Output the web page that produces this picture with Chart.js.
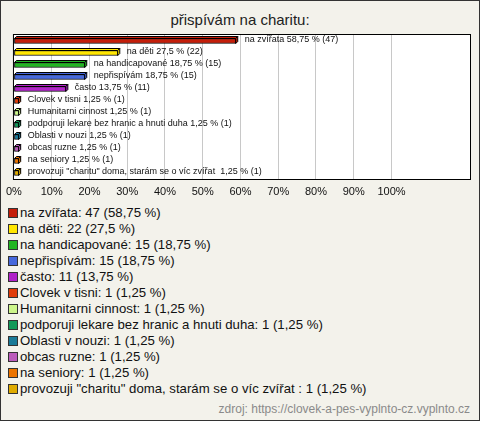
<!DOCTYPE html>
<html>
<head>
<meta charset="utf-8">
<script src="https://cdn.jsdelivr.net/npm/chart.js@4/dist/chart.umd.min.js"></script>
<style>
    html, body { margin: 0; padding: 0; }
    body { width: 480px; height: 421px; position: relative; background: #f3f2eb; font-family: "Liberation Sans", Arial, sans-serif; overflow: hidden; }
    #frame { position: absolute; left: 0; top: 0; width: 480px; height: 421px; box-sizing: border-box; border: 1px solid #333; pointer-events: none; }
    #title { position: absolute; left: 0; width: 480px; top: 10px; text-align: center; font-size: 15px; color: #222; line-height: 20px; }
    #chart-wrap { position: absolute; left: 0; top: 0; width: 480px; height: 205px; }
    #legend { position: absolute; left: 8px; top: 205px; font-size: 13.2px; color: #111; }
    #legend div { height: 16px; line-height: 16px; white-space: pre; }
    #legend span.box { display: inline-block; width: 8px; height: 8px; border: 1px solid #333; margin-right: 2px; vertical-align: -1px; }
    #source { position: absolute; right: 10px; top: 402px; font-size: 12px; color: #8a8a8a; }
</style>
</head>
<body>
<div id="title">přispívám na charitu:</div>
<div id="chart-wrap"><canvas id="bar-charita"></canvas></div>
<div id="legend"></div>
<div id="source">zdroj: https://clovek-a-pes-vyplnto-cz.vyplnto.cz</div>
<div id="frame"></div>
<script>
var kategori = ['na zvířata', 'na děti', 'na handicapované', 'nepřispívám', 'často', 'Clovek v tisni', 'Humanitarni cinnost', 'podporuji lekare bez hranic a hnuti duha', 'Oblasti v nouzi', 'obcas ruzne', 'na seniory', 'provozuji "charitu" doma, starám se o víc zvířat '];
var jumlah = [47, 22, 15, 15, 11, 1, 1, 1, 1, 1, 1, 1];
var persen = [58.75, 27.5, 18.75, 18.75, 13.75, 1.25, 1.25, 1.25, 1.25, 1.25, 1.25, 1.25];
var warna = ['#c41e0a', '#ffe600', '#22b522', '#4668dc', '#b022c8', '#e03c0a', '#ccf58a', '#12995a', '#1a7a98', '#bb5cbb', '#ec7400', '#dfab00'];
var tick_labels = ['0%', '10%', '20%', '30%', '40%', '50%', '60%', '70%', '80%', '90%', '100%'];

const fmt = (v) => v.toString().replace('.', ',');

// legend (html)
$legend = document.getElementById('legend');
kategori.forEach((k, i) => {
    let row = document.createElement('div');
    let box = document.createElement('span');
    box.className = 'box';
    box.style.background = warna[i];
    row.appendChild(box);
    row.appendChild(document.createTextNode(`${k}: ${jumlah[i]} (${fmt(persen[i])} %)`));
    $legend.appendChild(row);
});

// plot area background + frame
const plotFrame = {
    id: 'plotFrame',
    beforeDraw: (chart) => {
        const a = chart.chartArea, ctx = chart.ctx;
        ctx.save();
        ctx.fillStyle = '#ffffff';
        ctx.fillRect(a.left, a.top, a.right - a.left, a.bottom - a.top);
        ctx.restore();
    },
    afterDraw: (chart) => {
        const a = chart.chartArea, ctx = chart.ctx;
        ctx.save();
        ctx.strokeStyle = '#000';
        ctx.lineWidth = 1;
        ctx.strokeRect(a.left - 0.5, a.top - 0.5, a.right - a.left + 1, a.bottom - a.top + 1);
        ctx.restore();
    }
};

// 3d faces + value labels
const bar3d = {
    id: 'bar3d',
    afterDatasetsDraw: (chart) => {
        const ctx = chart.ctx;
        const d = 2;
        chart.getDatasetMeta(0).data.forEach((el, i) => {
            const p = el.getProps(['x', 'y', 'base', 'height'], true);
            const l = p.base, r = p.x, t = p.y - p.height / 2, b = p.y + p.height / 2;
            ctx.save();
            ctx.strokeStyle = '#000';
            ctx.lineWidth = 1;
            ctx.fillStyle = warna[i];
            ctx.beginPath();
            ctx.moveTo(l, t); ctx.lineTo(l + d, t - d); ctx.lineTo(r + d, t - d); ctx.lineTo(r, t); ctx.closePath();
            ctx.fill(); ctx.stroke();
            ctx.beginPath();
            ctx.moveTo(r, t); ctx.lineTo(r + d, t - d); ctx.lineTo(r + d, b - d); ctx.lineTo(r, b); ctx.closePath();
            ctx.fill(); ctx.stroke();
            ctx.fillStyle = '#111';
            ctx.font = '9px "Liberation Sans", Arial, sans-serif';
            ctx.textBaseline = 'middle';
            ctx.fillText(`${kategori[i]} ${fmt(persen[i])} % (${jumlah[i]})`, r + 9, p.y - 1);
            ctx.restore();
        });
    }
};

new Chart(document.getElementById('bar-charita'), {
    type: 'bar',
    data: {
        labels: kategori,
        datasets: [{
            data: persen,
            backgroundColor: warna,
            borderColor: '#000',
            borderWidth: 1,
            borderSkipped: false,
            barThickness: 5
        }]
    },
    options: {
        indexAxis: 'y',
        responsive: true,
        maintainAspectRatio: false,
        animation: false,
        layout: { padding: { left: 11, right: 10, top: 35, bottom: 0 } },
        plugins: {
            legend: { display: false },
            title: { display: false },
            tooltip: { enabled: false }
        },
        scales: {
            x: {
                min: 0,
                max: 120.8,
                afterBuildTicks: (axis) => { axis.ticks = axis.ticks.filter(t => t.value <= 100); },
                afterFit: (axis) => { axis.height = 26; },
                border: { display: false },
                grid: { color: '#c8c8c8', drawTicks: false },
                ticks: {
                    stepSize: 10,
                    padding: 6,
                    color: '#111',
                    font: { size: 11, family: '"Liberation Sans", Arial, sans-serif' },
                    callback: (v, idx) => tick_labels[idx]
                }
            },
            y: {
                display: false,
                grid: { display: false }
            }
        }
    },
    plugins: [plotFrame, bar3d]
});
</script>
</body>
</html>
